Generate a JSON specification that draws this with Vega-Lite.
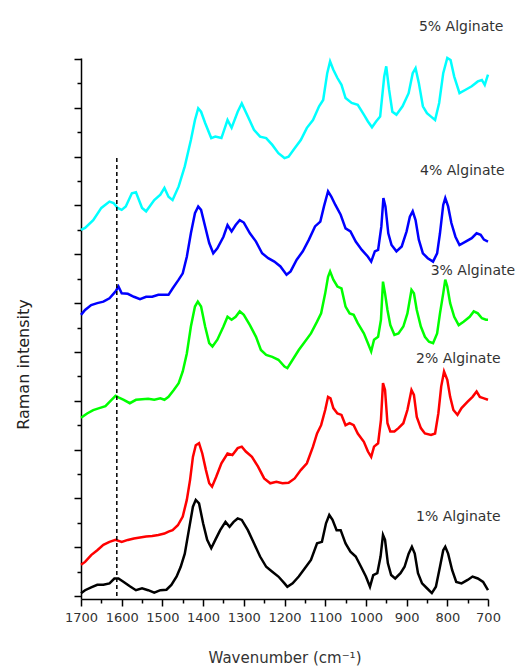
{
  "$schema": "https://vega.github.io/schema/vega-lite/v6.json",
  "autosize": {"type": "none"},
  "padding": {"left": 81, "top": 58, "right": 38, "bottom": 67},
  "width": 407,
  "height": 541,
  "background": "white",
  "config": {"view": {"stroke": null}, "font": "DejaVu Sans"},
  "layer": [
    {
      "data": {"values": [
        {"s":"1%","w":1700,"v":0.06},{"s":"1%","w":1690,"v":0.12},{"s":"1%","w":1675,"v":0.18},{"s":"1%","w":1660,"v":0.23},{"s":"1%","w":1645,"v":0.23},{"s":"1%","w":1630,"v":0.26},{"s":"1%","w":1618,"v":0.36},{"s":"1%","w":1608,"v":0.36},{"s":"1%","w":1595,"v":0.29},{"s":"1%","w":1580,"v":0.20},{"s":"1%","w":1565,"v":0.12},{"s":"1%","w":1550,"v":0.16},{"s":"1%","w":1535,"v":0.12},{"s":"1%","w":1520,"v":0.07},{"s":"1%","w":1505,"v":0.12},{"s":"1%","w":1490,"v":0.13},{"s":"1%","w":1478,"v":0.23},{"s":"1%","w":1465,"v":0.40},{"s":"1%","w":1455,"v":0.60},{"s":"1%","w":1445,"v":0.87},{"s":"1%","w":1435,"v":1.35},{"s":"1%","w":1425,"v":1.83},{"s":"1%","w":1418,"v":1.97},{"s":"1%","w":1410,"v":1.90},{"s":"1%","w":1400,"v":1.49},{"s":"1%","w":1390,"v":1.15},{"s":"1%","w":1380,"v":0.98},{"s":"1%","w":1370,"v":1.15},{"s":"1%","w":1358,"v":1.35},{"s":"1%","w":1345,"v":1.52},{"s":"1%","w":1335,"v":1.42},{"s":"1%","w":1325,"v":1.52},{"s":"1%","w":1315,"v":1.59},{"s":"1%","w":1305,"v":1.56},{"s":"1%","w":1290,"v":1.35},{"s":"1%","w":1275,"v":1.08},{"s":"1%","w":1260,"v":0.81},{"s":"1%","w":1245,"v":0.60},{"s":"1%","w":1230,"v":0.50},{"s":"1%","w":1215,"v":0.40},{"s":"1%","w":1200,"v":0.26},{"s":"1%","w":1193,"v":0.19},{"s":"1%","w":1180,"v":0.26},{"s":"1%","w":1165,"v":0.40},{"s":"1%","w":1150,"v":0.57},{"s":"1%","w":1135,"v":0.74},{"s":"1%","w":1120,"v":1.08},{"s":"1%","w":1108,"v":1.11},{"s":"1%","w":1098,"v":1.49},{"s":"1%","w":1090,"v":1.66},{"s":"1%","w":1082,"v":1.56},{"s":"1%","w":1072,"v":1.35},{"s":"1%","w":1062,"v":1.35},{"s":"1%","w":1050,"v":1.08},{"s":"1%","w":1038,"v":0.91},{"s":"1%","w":1025,"v":0.81},{"s":"1%","w":1012,"v":0.60},{"s":"1%","w":1000,"v":0.40},{"s":"1%","w":990,"v":0.19},{"s":"1%","w":982,"v":0.43},{"s":"1%","w":972,"v":0.47},{"s":"1%","w":964,"v":0.81},{"s":"1%","w":958,"v":1.25},{"s":"1%","w":953,"v":1.15},{"s":"1%","w":946,"v":0.67},{"s":"1%","w":938,"v":0.43},{"s":"1%","w":928,"v":0.36},{"s":"1%","w":915,"v":0.47},{"s":"1%","w":905,"v":0.60},{"s":"1%","w":895,"v":0.87},{"s":"1%","w":887,"v":1.01},{"s":"1%","w":880,"v":0.87},{"s":"1%","w":872,"v":0.47},{"s":"1%","w":862,"v":0.26},{"s":"1%","w":850,"v":0.16},{"s":"1%","w":838,"v":0.06},{"s":"1%","w":828,"v":0.19},{"s":"1%","w":818,"v":0.60},{"s":"1%","w":810,"v":0.94},{"s":"1%","w":805,"v":1.01},{"s":"1%","w":798,"v":0.87},{"s":"1%","w":788,"v":0.53},{"s":"1%","w":778,"v":0.29},{"s":"1%","w":765,"v":0.26},{"s":"1%","w":750,"v":0.33},{"s":"1%","w":738,"v":0.40},{"s":"1%","w":725,"v":0.36},{"s":"1%","w":712,"v":0.29},{"s":"1%","w":700,"v":0.12},

        {"s":"2%","w":1700,"v":0.64},{"s":"2%","w":1690,"v":0.70},{"s":"2%","w":1675,"v":0.84},{"s":"2%","w":1660,"v":0.94},{"s":"2%","w":1645,"v":1.05},{"s":"2%","w":1630,"v":1.11},{"s":"2%","w":1615,"v":1.15},{"s":"2%","w":1600,"v":1.11},{"s":"2%","w":1585,"v":1.15},{"s":"2%","w":1570,"v":1.18},{"s":"2%","w":1555,"v":1.20},{"s":"2%","w":1540,"v":1.22},{"s":"2%","w":1525,"v":1.23},{"s":"2%","w":1510,"v":1.25},{"s":"2%","w":1495,"v":1.28},{"s":"2%","w":1485,"v":1.32},{"s":"2%","w":1475,"v":1.35},{"s":"2%","w":1462,"v":1.45},{"s":"2%","w":1450,"v":1.63},{"s":"2%","w":1440,"v":1.97},{"s":"2%","w":1432,"v":2.38},{"s":"2%","w":1425,"v":2.85},{"s":"2%","w":1418,"v":3.09},{"s":"2%","w":1410,"v":3.13},{"s":"2%","w":1402,"v":2.92},{"s":"2%","w":1393,"v":2.58},{"s":"2%","w":1385,"v":2.31},{"s":"2%","w":1378,"v":2.24},{"s":"2%","w":1368,"v":2.44},{"s":"2%","w":1355,"v":2.72},{"s":"2%","w":1340,"v":2.92},{"s":"2%","w":1328,"v":2.89},{"s":"2%","w":1315,"v":3.03},{"s":"2%","w":1305,"v":3.06},{"s":"2%","w":1295,"v":2.96},{"s":"2%","w":1280,"v":2.85},{"s":"2%","w":1265,"v":2.65},{"s":"2%","w":1250,"v":2.41},{"s":"2%","w":1235,"v":2.31},{"s":"2%","w":1220,"v":2.34},{"s":"2%","w":1205,"v":2.31},{"s":"2%","w":1190,"v":2.32},{"s":"2%","w":1175,"v":2.41},{"s":"2%","w":1160,"v":2.58},{"s":"2%","w":1145,"v":2.72},{"s":"2%","w":1130,"v":3.06},{"s":"2%","w":1120,"v":3.33},{"s":"2%","w":1110,"v":3.50},{"s":"2%","w":1100,"v":3.81},{"s":"2%","w":1093,"v":4.08},{"s":"2%","w":1087,"v":4.05},{"s":"2%","w":1080,"v":3.85},{"s":"2%","w":1070,"v":3.74},{"s":"2%","w":1060,"v":3.71},{"s":"2%","w":1050,"v":3.50},{"s":"2%","w":1040,"v":3.54},{"s":"2%","w":1030,"v":3.50},{"s":"2%","w":1020,"v":3.33},{"s":"2%","w":1005,"v":3.16},{"s":"2%","w":995,"v":2.96},{"s":"2%","w":987,"v":2.85},{"s":"2%","w":980,"v":3.06},{"s":"2%","w":970,"v":3.13},{"s":"2%","w":963,"v":3.61},{"s":"2%","w":958,"v":4.36},{"s":"2%","w":953,"v":4.22},{"s":"2%","w":947,"v":3.54},{"s":"2%","w":940,"v":3.37},{"s":"2%","w":930,"v":3.37},{"s":"2%","w":920,"v":3.44},{"s":"2%","w":908,"v":3.54},{"s":"2%","w":898,"v":3.81},{"s":"2%","w":888,"v":4.22},{"s":"2%","w":882,"v":4.12},{"s":"2%","w":875,"v":3.67},{"s":"2%","w":865,"v":3.44},{"s":"2%","w":855,"v":3.33},{"s":"2%","w":840,"v":3.30},{"s":"2%","w":830,"v":3.33},{"s":"2%","w":822,"v":3.74},{"s":"2%","w":815,"v":4.29},{"s":"2%","w":808,"v":4.60},{"s":"2%","w":800,"v":4.43},{"s":"2%","w":793,"v":4.08},{"s":"2%","w":785,"v":3.81},{"s":"2%","w":775,"v":3.71},{"s":"2%","w":765,"v":3.85},{"s":"2%","w":750,"v":3.98},{"s":"2%","w":738,"v":4.08},{"s":"2%","w":728,"v":4.19},{"s":"2%","w":720,"v":4.08},{"s":"2%","w":710,"v":4.05},{"s":"2%","w":700,"v":4.02},

        {"s":"3%","w":1700,"v":3.65},{"s":"3%","w":1685,"v":3.74},{"s":"3%","w":1670,"v":3.81},{"s":"3%","w":1655,"v":3.85},{"s":"3%","w":1640,"v":3.89},{"s":"3%","w":1625,"v":4.02},{"s":"3%","w":1615,"v":4.10},{"s":"3%","w":1608,"v":4.07},{"s":"3%","w":1595,"v":4.02},{"s":"3%","w":1580,"v":3.95},{"s":"3%","w":1565,"v":4.02},{"s":"3%","w":1550,"v":4.03},{"s":"3%","w":1535,"v":4.04},{"s":"3%","w":1520,"v":4.02},{"s":"3%","w":1505,"v":4.05},{"s":"3%","w":1495,"v":4.02},{"s":"3%","w":1485,"v":4.08},{"s":"3%","w":1472,"v":4.22},{"s":"3%","w":1460,"v":4.36},{"s":"3%","w":1450,"v":4.60},{"s":"3%","w":1440,"v":4.97},{"s":"3%","w":1430,"v":5.52},{"s":"3%","w":1420,"v":5.93},{"s":"3%","w":1413,"v":6.03},{"s":"3%","w":1405,"v":5.93},{"s":"3%","w":1395,"v":5.52},{"s":"3%","w":1385,"v":5.18},{"s":"3%","w":1377,"v":5.11},{"s":"3%","w":1365,"v":5.25},{"s":"3%","w":1350,"v":5.52},{"s":"3%","w":1340,"v":5.72},{"s":"3%","w":1330,"v":5.66},{"s":"3%","w":1320,"v":5.72},{"s":"3%","w":1310,"v":5.83},{"s":"3%","w":1300,"v":5.76},{"s":"3%","w":1285,"v":5.55},{"s":"3%","w":1270,"v":5.31},{"s":"3%","w":1258,"v":5.04},{"s":"3%","w":1245,"v":4.94},{"s":"3%","w":1230,"v":4.90},{"s":"3%","w":1215,"v":4.84},{"s":"3%","w":1200,"v":4.70},{"s":"3%","w":1193,"v":4.67},{"s":"3%","w":1180,"v":4.84},{"s":"3%","w":1165,"v":5.04},{"s":"3%","w":1150,"v":5.21},{"s":"3%","w":1135,"v":5.38},{"s":"3%","w":1120,"v":5.62},{"s":"3%","w":1110,"v":5.79},{"s":"3%","w":1100,"v":6.20},{"s":"3%","w":1093,"v":6.54},{"s":"3%","w":1088,"v":6.65},{"s":"3%","w":1080,"v":6.48},{"s":"3%","w":1070,"v":6.34},{"s":"3%","w":1060,"v":6.30},{"s":"3%","w":1050,"v":5.93},{"s":"3%","w":1040,"v":5.79},{"s":"3%","w":1030,"v":5.76},{"s":"3%","w":1020,"v":5.59},{"s":"3%","w":1005,"v":5.38},{"s":"3%","w":995,"v":5.18},{"s":"3%","w":987,"v":5.01},{"s":"3%","w":980,"v":5.25},{"s":"3%","w":970,"v":5.31},{"s":"3%","w":963,"v":5.66},{"s":"3%","w":958,"v":6.44},{"s":"3%","w":953,"v":6.20},{"s":"3%","w":947,"v":5.86},{"s":"3%","w":940,"v":5.55},{"s":"3%","w":930,"v":5.35},{"s":"3%","w":920,"v":5.38},{"s":"3%","w":908,"v":5.52},{"s":"3%","w":898,"v":5.79},{"s":"3%","w":888,"v":6.27},{"s":"3%","w":882,"v":6.20},{"s":"3%","w":875,"v":5.86},{"s":"3%","w":865,"v":5.52},{"s":"3%","w":855,"v":5.31},{"s":"3%","w":845,"v":5.21},{"s":"3%","w":835,"v":5.18},{"s":"3%","w":825,"v":5.38},{"s":"3%","w":818,"v":5.79},{"s":"3%","w":810,"v":6.20},{"s":"3%","w":805,"v":6.48},{"s":"3%","w":800,"v":6.34},{"s":"3%","w":793,"v":6.00},{"s":"3%","w":783,"v":5.72},{"s":"3%","w":772,"v":5.55},{"s":"3%","w":760,"v":5.62},{"s":"3%","w":745,"v":5.72},{"s":"3%","w":735,"v":5.83},{"s":"3%","w":725,"v":5.79},{"s":"3%","w":715,"v":5.69},{"s":"3%","w":705,"v":5.66},{"s":"3%","w":700,"v":5.66},

        {"s":"4%","w":1700,"v":5.76},{"s":"4%","w":1690,"v":5.86},{"s":"4%","w":1675,"v":5.96},{"s":"4%","w":1660,"v":6.00},{"s":"4%","w":1645,"v":6.03},{"s":"4%","w":1630,"v":6.10},{"s":"4%","w":1615,"v":6.24},{"s":"4%","w":1608,"v":6.34},{"s":"4%","w":1600,"v":6.20},{"s":"4%","w":1585,"v":6.19},{"s":"4%","w":1570,"v":6.13},{"s":"4%","w":1555,"v":6.08},{"s":"4%","w":1540,"v":6.13},{"s":"4%","w":1525,"v":6.13},{"s":"4%","w":1510,"v":6.17},{"s":"4%","w":1495,"v":6.17},{"s":"4%","w":1485,"v":6.17},{"s":"4%","w":1475,"v":6.30},{"s":"4%","w":1460,"v":6.48},{"s":"4%","w":1450,"v":6.61},{"s":"4%","w":1440,"v":6.95},{"s":"4%","w":1430,"v":7.43},{"s":"4%","w":1420,"v":7.84},{"s":"4%","w":1412,"v":7.98},{"s":"4%","w":1405,"v":7.91},{"s":"4%","w":1395,"v":7.57},{"s":"4%","w":1385,"v":7.23},{"s":"4%","w":1375,"v":7.02},{"s":"4%","w":1365,"v":7.12},{"s":"4%","w":1350,"v":7.36},{"s":"4%","w":1340,"v":7.60},{"s":"4%","w":1330,"v":7.47},{"s":"4%","w":1320,"v":7.60},{"s":"4%","w":1310,"v":7.70},{"s":"4%","w":1300,"v":7.65},{"s":"4%","w":1285,"v":7.43},{"s":"4%","w":1270,"v":7.26},{"s":"4%","w":1255,"v":7.02},{"s":"4%","w":1240,"v":6.92},{"s":"4%","w":1225,"v":6.85},{"s":"4%","w":1210,"v":6.75},{"s":"4%","w":1195,"v":6.58},{"s":"4%","w":1185,"v":6.65},{"s":"4%","w":1170,"v":6.89},{"s":"4%","w":1155,"v":7.06},{"s":"4%","w":1140,"v":7.30},{"s":"4%","w":1125,"v":7.57},{"s":"4%","w":1112,"v":7.67},{"s":"4%","w":1103,"v":7.98},{"s":"4%","w":1093,"v":8.29},{"s":"4%","w":1085,"v":8.18},{"s":"4%","w":1075,"v":8.01},{"s":"4%","w":1062,"v":7.81},{"s":"4%","w":1050,"v":7.53},{"s":"4%","w":1038,"v":7.47},{"s":"4%","w":1025,"v":7.26},{"s":"4%","w":1010,"v":7.09},{"s":"4%","w":995,"v":6.95},{"s":"4%","w":987,"v":6.85},{"s":"4%","w":978,"v":7.06},{"s":"4%","w":970,"v":7.09},{"s":"4%","w":962,"v":7.57},{"s":"4%","w":957,"v":8.15},{"s":"4%","w":952,"v":7.98},{"s":"4%","w":945,"v":7.43},{"s":"4%","w":937,"v":7.19},{"s":"4%","w":925,"v":7.06},{"s":"4%","w":912,"v":7.16},{"s":"4%","w":900,"v":7.47},{"s":"4%","w":892,"v":7.77},{"s":"4%","w":885,"v":7.88},{"s":"4%","w":878,"v":7.70},{"s":"4%","w":870,"v":7.30},{"s":"4%","w":860,"v":7.02},{"s":"4%","w":848,"v":6.92},{"s":"4%","w":835,"v":6.85},{"s":"4%","w":825,"v":7.02},{"s":"4%","w":818,"v":7.43},{"s":"4%","w":810,"v":8.01},{"s":"4%","w":805,"v":8.15},{"s":"4%","w":798,"v":7.98},{"s":"4%","w":790,"v":7.64},{"s":"4%","w":780,"v":7.36},{"s":"4%","w":770,"v":7.19},{"s":"4%","w":755,"v":7.26},{"s":"4%","w":740,"v":7.33},{"s":"4%","w":728,"v":7.43},{"s":"4%","w":718,"v":7.40},{"s":"4%","w":710,"v":7.30},{"s":"4%","w":700,"v":7.26},

        {"s":"5%","w":1700,"v":7.50},{"s":"5%","w":1690,"v":7.54},{"s":"5%","w":1670,"v":7.70},{"s":"5%","w":1650,"v":7.95},{"s":"5%","w":1630,"v":8.08},{"s":"5%","w":1620,"v":8.05},{"s":"5%","w":1610,"v":7.95},{"s":"5%","w":1600,"v":7.91},{"s":"5%","w":1590,"v":7.98},{"s":"5%","w":1575,"v":8.25},{"s":"5%","w":1565,"v":8.27},{"s":"5%","w":1550,"v":7.95},{"s":"5%","w":1540,"v":7.88},{"s":"5%","w":1520,"v":8.11},{"s":"5%","w":1505,"v":8.22},{"s":"5%","w":1495,"v":8.36},{"s":"5%","w":1485,"v":8.18},{"s":"5%","w":1475,"v":8.11},{"s":"5%","w":1460,"v":8.39},{"s":"5%","w":1445,"v":8.80},{"s":"5%","w":1430,"v":9.34},{"s":"5%","w":1420,"v":9.75},{"s":"5%","w":1412,"v":9.99},{"s":"5%","w":1405,"v":9.92},{"s":"5%","w":1395,"v":9.69},{"s":"5%","w":1380,"v":9.38},{"s":"5%","w":1370,"v":9.41},{"s":"5%","w":1355,"v":9.38},{"s":"5%","w":1340,"v":9.75},{"s":"5%","w":1330,"v":9.59},{"s":"5%","w":1315,"v":9.92},{"s":"5%","w":1305,"v":10.09},{"s":"5%","w":1290,"v":9.82},{"s":"5%","w":1275,"v":9.55},{"s":"5%","w":1260,"v":9.41},{"s":"5%","w":1245,"v":9.38},{"s":"5%","w":1230,"v":9.24},{"s":"5%","w":1215,"v":9.07},{"s":"5%","w":1200,"v":8.97},{"s":"5%","w":1190,"v":9.00},{"s":"5%","w":1175,"v":9.17},{"s":"5%","w":1160,"v":9.34},{"s":"5%","w":1145,"v":9.59},{"s":"5%","w":1130,"v":9.75},{"s":"5%","w":1115,"v":10.03},{"s":"5%","w":1105,"v":10.16},{"s":"5%","w":1095,"v":10.71},{"s":"5%","w":1088,"v":10.95},{"s":"5%","w":1080,"v":10.78},{"s":"5%","w":1070,"v":10.61},{"s":"5%","w":1060,"v":10.47},{"s":"5%","w":1050,"v":10.20},{"s":"5%","w":1035,"v":10.10},{"s":"5%","w":1020,"v":10.06},{"s":"5%","w":1005,"v":9.86},{"s":"5%","w":995,"v":9.72},{"s":"5%","w":985,"v":9.60},{"s":"5%","w":975,"v":9.72},{"s":"5%","w":965,"v":9.82},{"s":"5%","w":955,"v":10.64},{"s":"5%","w":950,"v":10.85},{"s":"5%","w":943,"v":10.37},{"s":"5%","w":935,"v":9.92},{"s":"5%","w":925,"v":9.86},{"s":"5%","w":910,"v":10.03},{"s":"5%","w":895,"v":10.30},{"s":"5%","w":885,"v":10.71},{"s":"5%","w":878,"v":10.81},{"s":"5%","w":870,"v":10.51},{"s":"5%","w":860,"v":10.03},{"s":"5%","w":850,"v":9.89},{"s":"5%","w":840,"v":9.82},{"s":"5%","w":830,"v":9.75},{"s":"5%","w":820,"v":10.10},{"s":"5%","w":810,"v":10.71},{"s":"5%","w":800,"v":11.02},{"s":"5%","w":792,"v":10.98},{"s":"5%","w":783,"v":10.64},{"s":"5%","w":770,"v":10.30},{"s":"5%","w":755,"v":10.37},{"s":"5%","w":740,"v":10.44},{"s":"5%","w":725,"v":10.54},{"s":"5%","w":715,"v":10.57},{"s":"5%","w":708,"v":10.47},{"s":"5%","w":700,"v":10.68}
      ]},
      "mark": {"type": "line", "strokeWidth": 2.5, "clip": false},
      "encoding": {
        "x": {
          "field": "w", "type": "quantitative",
          "scale": {"domain": [700, 1700], "reverse": true, "nice": false, "zero": false},
          "axis": {
            "title": "Wavenumber (cm⁻¹)",
            "values": [700,750,800,850,900,950,1000,1050,1100,1150,1200,1250,1300,1350,1400,1450,1500,1550,1600,1650,1700],
            "tickCount": 100,
            "labelExpr": "datum.value % 100 === 0 ? datum.label : ''",
            "format": "d",
            "labelOverlap": false,
            "labelFlush": false,
            "labelFontSize": 13,
            "labelColor": "#333333",
            "labelPadding": 5,
            "grid": false,
            "domainColor": "#000000",
            "domainWidth": 1.5,
            "tickColor": "#000000",
            "tickWidth": 1.5,
            "tickSize": {"condition": {"test": "datum.value % 100 === 0", "value": 7}, "value": 4},
            "titleFontSize": 15,
            "titleFontWeight": "normal",
            "titleColor": "#333333",
            "titleBaseline": "middle",
            "titleY": 58
          }
        },
        "y": {
          "field": "v", "type": "quantitative",
          "scale": {"domain": [-0.06, 11.02], "nice": false, "zero": false},
          "axis": {
            "title": "Raman intensity",
            "values": [0,0.5,1,1.5,2,2.5,3,3.5,4,4.5,5,5.5,6,6.5,7,7.5,8,8.5,9,9.5,10,10.5,11],
            "tickCount": 100,
            "labels": false,
            "grid": false,
            "domainColor": "#000000",
            "domainWidth": 1.5,
            "tickColor": "#000000",
            "tickWidth": 1.5,
            "tickSize": {"condition": {"test": "datum.value % 1 === 0", "value": 7}, "value": 4},
            "titleFontSize": 16,
            "titleFontWeight": "normal",
            "titleColor": "#222222",
            "titleBaseline": "middle",
            "titleX": -58,
            "titleY": 306
          }
        },
        "color": {
          "field": "s", "type": "nominal",
          "scale": {"domain": ["1%","2%","3%","4%","5%"], "range": ["#000000","#ff0000","#00ff00","#0000ff","#00ffff"]},
          "legend": null
        }
      }
    },
    {
      "data": {"values": [{"w": 1612, "y1": 0, "y2": 9.0}]},
      "mark": {"type": "rule", "strokeDash": [4, 3], "strokeWidth": 1.5, "color": "#000000"},
      "encoding": {
        "x": {"field": "w", "type": "quantitative"},
        "y": {"field": "y1", "type": "quantitative"},
        "y2": {"field": "y2"}
      }
    },
    {
      "data": {"values": [
        {"w": 766, "y": 11.66, "label": "5% Alginate"},
        {"w": 763, "y": 8.71, "label": "4% Alginate"},
        {"w": 737, "y": 6.65, "label": "3% Alginate"},
        {"w": 773, "y": 4.86, "label": "2% Alginate"},
        {"w": 773, "y": 1.61, "label": "1% Alginate"}
      ]},
      "mark": {"type": "text", "fontSize": 14, "color": "#333333", "align": "center", "baseline": "middle", "clip": false},
      "encoding": {
        "x": {"field": "w", "type": "quantitative"},
        "y": {"field": "y", "type": "quantitative"},
        "text": {"field": "label"}
      }
    }
  ]
}
